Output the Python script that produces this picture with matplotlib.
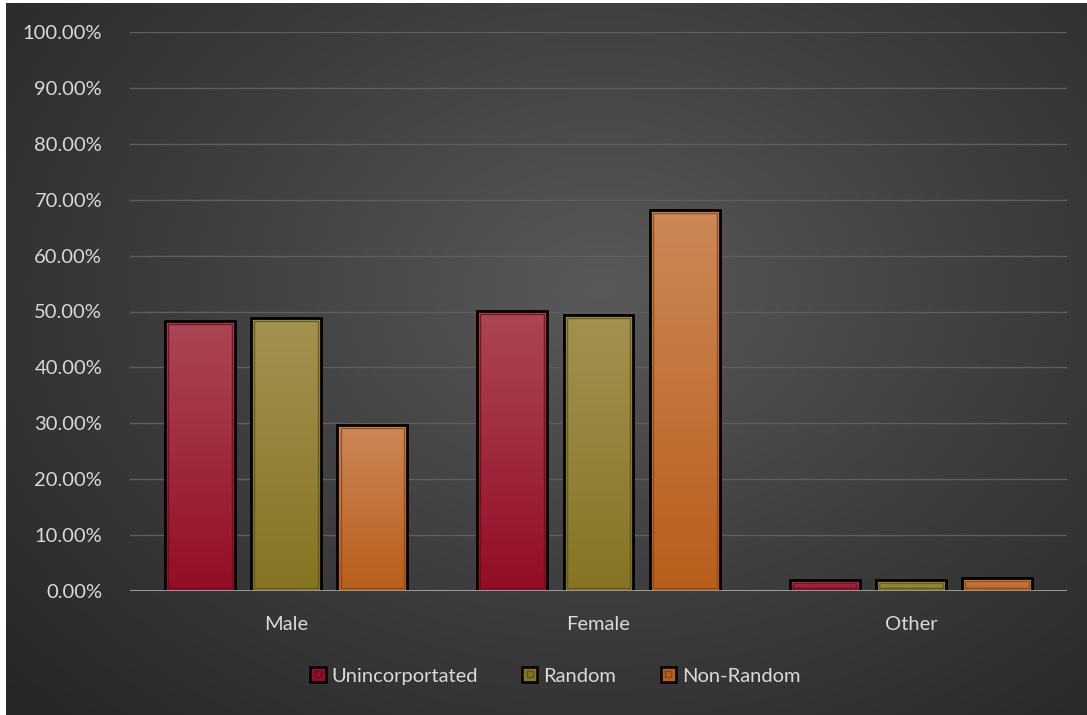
import numpy as np
import matplotlib.pyplot as plt
from matplotlib.patches import Rectangle
from matplotlib.lines import Line2D
from matplotlib.colors import LinearSegmentedColormap
from matplotlib.ticker import FuncFormatter

# datos
categorias = ['Male', 'Female', 'Other']
series = ['Unincorportated', 'Random', 'Non-Random']
unincorp = [48.3, 50.1, 2.0]
random_ = [48.8, 49.4, 1.9]
non_random = [29.7, 68.2, 2.4]
valores = [unincorp, random_, non_random]

# colores (arriba, abajo, borde interior)
col_top = ['#ac4655', '#a39150', '#cc8756']
col_bot = ['#930d27', '#857523', '#b85f1c']
col_in = ['#6e0a1c', '#5e531a', '#8a4612']

plt.rcParams['font.family'] = ['Lato', 'DejaVu Sans']

fig = plt.figure(figsize=(10.87, 7.15), dpi=100)
fig.patch.set_facecolor('white')

# fondo con degradado radial
bg = fig.add_axes([6/1087, 0, 1 - 6/1087, 1 - 3/715])
ny, nx = 300, 450
yy, xx = np.mgrid[0:ny, 0:nx]
cx, cy = 0.55 * nx, 0.40 * ny
r = np.sqrt(((xx - cx) / (0.75 * nx)) ** 2 + ((yy - cy) / (0.85 * ny)) ** 2)
r = np.clip(r, 0, 1)
bgcmap = LinearSegmentedColormap.from_list('bg', ['#595959', '#3e3e3e', '#262626'])
bg.imshow(r, cmap=bgcmap, aspect='auto', extent=[0, 1, 0, 1], origin='upper', vmin=0, vmax=1)
bg.set_axis_off()

ax = fig.add_axes([130/1087, 124/715, 937/1087, 559/715])
ax.set_facecolor('none')
ax.set_xlim(-0.5, 2.5)
ax.set_ylim(0, 100)

x = np.arange(len(categorias))
ancho = 0.224
paso = 0.276
grad = np.linspace(0, 1, 100).reshape(-1, 1)

for i, (vals, ct, cb, ci) in enumerate(zip(valores, col_top, col_bot, col_in)):
    pos = x + (i - 1) * paso
    barras = ax.bar(pos, vals, width=ancho, color='none', edgecolor='black',
                    linewidth=2.0, zorder=4)
    cmap = LinearSegmentedColormap.from_list('g%d' % i, [cb, ct])
    for b in barras:
        x0, y0 = b.get_x(), b.get_y()
        w, h = b.get_width(), b.get_height()
        im = ax.imshow(grad, cmap=cmap, aspect='auto', origin='lower',
                       extent=[x0, x0 + w, y0, y0 + h], zorder=3)
        im.set_clip_path(b)
        dx, dy = w * 0.045, 0.55
        if h > 2 * dy:
            ax.add_patch(Rectangle((x0 + dx, y0 + dy), w - 2 * dx, h - 2 * dy,
                                   fill=False, edgecolor=ci, linewidth=1.0,
                                   alpha=0.8, zorder=4))

ax.set_xlim(-0.5, 2.5)
ax.set_ylim(0, 100)
ax.set_yticks(np.arange(0, 101, 10))
ax.yaxis.set_major_formatter(FuncFormatter(lambda v, p: '%.2f%%' % v))
ax.set_xticks(x)
ax.set_xticklabels(categorias)
ax.grid(axis='y', color='#5e5e5e', linewidth=1.0, zorder=0)
ax.set_axisbelow(True)
ax.axhline(0, color='#a6a6a6', linewidth=2.0, zorder=5)
for s in ax.spines.values():
    s.set_visible(False)
ax.tick_params(axis='both', length=0, labelsize=14.5, colors='#d9d9d9')
ax.tick_params(axis='y', pad=20)
ax.tick_params(axis='x', pad=18)

# leyenda
handles = []
for cb, ci in zip(col_bot, col_in):
    caja = Rectangle((0, 0), 1, 1, facecolor=cb, edgecolor='black', linewidth=1.8)
    interior = Line2D([], [], marker='s', markersize=4, markerfacecolor='none',
                      markeredgecolor=ci, markeredgewidth=1.0, linestyle='none')
    handles.append((caja, interior))
leg = ax.legend(handles, series, loc='center', bbox_to_anchor=(0.454, -0.152),
                ncol=3, frameon=False, fontsize=14.5, handlelength=0.75,
                handleheight=0.75, handletextpad=0.3, columnspacing=2.2)
for t in leg.get_texts():
    t.set_color('#d9d9d9')

fig.savefig('out.png', dpi=100)
